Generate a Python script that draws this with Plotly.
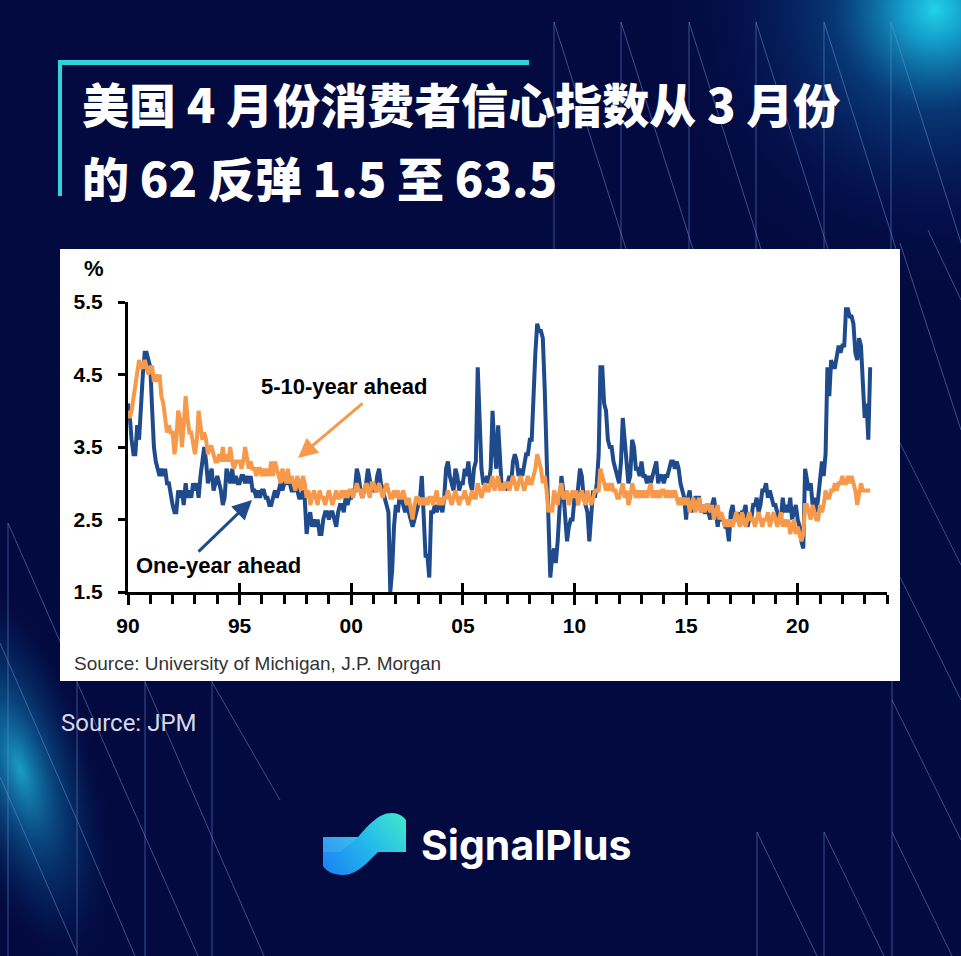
import base64
import plotly.graph_objects as go
import pandas as pd

W, H = 961, 956

# ---------------- data (monthly, Jan 1990 - Apr 2023) ----------------
one_year_ahead = [
    4.1, 3.9, 3.6, 3.4, 3.4, 3.8, 3.6, 4.2, 4.5, 4.8, 4.8, 4.7,  # 1990
    4.6, 4.0, 3.5, 3.3, 3.2, 3.1, 3.2, 3.1, 3.2, 3.0, 3.0, 2.8,  # 1991
    2.7, 2.6, 2.6, 2.9, 2.8, 2.9, 2.7, 3.0, 2.8, 2.9, 2.8, 3.0,  # 1992
    2.9, 3.0, 2.8, 3.1, 3.3, 3.5, 3.3, 3.0, 3.1, 3.2, 2.9, 3.0,  # 1993
    3.1, 3.0, 2.9, 2.7, 2.8, 3.2, 3.1, 3.0, 3.2, 3.0, 3.1, 3.0,  # 1994
    3.0, 3.1, 3.1, 3.0, 3.1, 3.0, 3.1, 2.9, 2.9, 2.8, 2.9, 2.8,  # 1995
    2.9, 2.9, 2.8, 2.8, 2.7, 2.7, 2.8, 2.9, 2.8, 2.9, 3.0, 2.9,  # 1996
    3.0, 3.0, 3.1, 3.0, 2.9, 2.9, 3.0, 2.9, 2.8, 2.8, 2.9, 2.8,  # 1997
    2.3, 2.5, 2.6, 2.4, 2.5, 2.4, 2.5, 2.3, 2.3, 2.5, 2.6, 2.6,  # 1998
    2.5, 2.6, 2.6, 2.5, 2.4, 2.6, 2.7, 2.7, 2.6, 2.8, 2.7, 2.8,  # 1999
    2.8, 2.9, 2.9, 3.2, 3.1, 2.9, 2.8, 2.9, 3.0, 3.2, 3.0, 2.9,  # 2000
    2.9, 2.9, 3.1, 3.2, 3.0, 2.9, 2.8, 2.7, 2.6, 1.5, 1.8, 2.4,  # 2001
    2.7, 2.6, 2.8, 2.8, 2.7, 2.6, 2.7, 2.6, 2.5, 2.4, 2.5, 2.6,  # 2002
    2.7, 2.8, 3.1, 2.5, 2.0, 2.0, 1.7, 2.6, 2.6, 2.7, 2.6, 2.7,  # 2003
    2.7, 2.6, 2.8, 3.2, 3.3, 3.1, 3.0, 2.9, 3.2, 3.1, 2.9, 3.0,  # 2004
    3.0, 3.2, 3.1, 3.3, 3.0, 2.9, 3.2, 3.3, 4.6, 3.8, 3.2, 3.0,  # 2005
    3.0, 3.1, 3.0, 3.2, 4.0, 3.5, 3.2, 3.8, 3.2, 2.9, 3.0, 2.9,  # 2006
    3.0, 3.1, 3.0, 3.3, 3.4, 3.3, 3.1, 3.2, 3.1, 3.3, 3.4, 3.4,  # 2007
    3.6, 3.6, 4.3, 4.8, 5.2, 5.1, 5.1, 5.0, 4.3, 3.2, 2.5, 1.7,  # 2008
    2.0, 2.1, 1.9, 2.2, 2.8, 3.1, 2.9, 2.6, 2.2, 2.4, 2.5, 2.5,  # 2009
    2.8, 2.7, 2.9, 3.2, 3.1, 2.8, 2.7, 2.6, 2.2, 2.5, 2.9, 2.8,  # 2010
    3.0, 3.4, 4.6, 4.6, 4.1, 4.0, 3.6, 3.5, 3.5, 3.3, 3.2, 3.1,  # 2011
    3.0, 3.3, 3.9, 3.6, 3.2, 3.0, 3.1, 3.6, 3.5, 3.2, 3.2, 3.1,  # 2012
    3.3, 3.1, 3.1, 3.0, 3.1, 3.0, 3.1, 3.2, 3.3, 3.0, 3.1, 3.1,  # 2013
    3.0, 3.1, 3.1, 3.2, 3.3, 3.3, 3.2, 3.3, 3.2, 3.0, 2.9, 2.8,  # 2014
    2.5, 2.8, 2.9, 2.6, 2.7, 2.8, 2.8, 2.8, 2.6, 2.7, 2.6, 2.6,  # 2015
    2.6, 2.5, 2.7, 2.8, 2.6, 2.4, 2.6, 2.5, 2.5, 2.4, 2.4, 2.2,  # 2016
    2.6, 2.7, 2.5, 2.5, 2.6, 2.4, 2.6, 2.6, 2.7, 2.4, 2.5, 2.5,  # 2017
    2.7, 2.7, 2.8, 2.6, 2.7, 2.9, 2.9, 3.0, 2.8, 2.9, 2.8, 2.7,  # 2018
    2.7, 2.6, 2.5, 2.5, 2.8, 2.6, 2.7, 2.6, 2.8, 2.5, 2.6, 2.7,  # 2019
    2.5, 2.4, 2.2, 2.1, 3.2, 3.0, 2.9, 3.0, 2.7, 2.8, 2.6, 2.8,  # 2020
    3.0, 3.3, 3.1, 3.4, 4.6, 4.2, 4.7, 4.6, 4.6, 4.8, 4.9, 4.8,  # 2021
    4.9, 4.9, 5.4, 5.4, 5.3, 5.3, 5.2, 4.8, 4.7, 5.0, 4.9, 4.4,  # 2022
    3.9, 4.1, 3.6, 4.6,                                          # 2023
]

five_ten_year_ahead = [
    4.0, 3.9, 4.0, 4.2, 4.3, 4.5, 4.7, 4.6, 4.6, 4.7, 4.6, 4.5,  # 1990
    4.6, 4.6, 4.4, 4.5, 4.4, 4.5, 4.2, 4.1, 3.9, 3.7, 3.8, 3.7,  # 1991
    3.7, 3.4, 3.6, 4.0, 3.9, 3.5, 3.8, 4.2, 3.9, 3.7, 3.7, 3.5,  # 1992
    3.4, 3.6, 4.0, 3.8, 3.6, 3.7, 3.6, 3.4, 3.5, 3.5, 3.4, 3.3,  # 1993
    3.3, 3.4, 3.3, 3.5, 3.3, 3.4, 3.3, 3.5, 3.3, 3.2, 3.3, 3.3,  # 1994
    3.3, 3.2, 3.3, 3.5, 3.3, 3.2, 3.3, 3.2, 3.2, 3.1, 3.2, 3.2,  # 1995
    3.1, 3.2, 3.1, 3.2, 3.1, 3.3, 3.1, 3.3, 3.2, 3.1, 3.0, 3.2,  # 1996
    3.1, 3.0, 3.2, 3.0, 3.1, 3.0, 2.9, 3.1, 3.0, 2.9, 3.1, 3.0,  # 1997
    2.8, 2.9, 2.7, 2.8, 2.9, 2.8, 2.7, 2.9, 2.8, 2.8, 2.7, 2.8,  # 1998
    2.9, 2.8, 2.7, 2.8, 2.9, 2.8, 2.8, 2.9, 2.8, 2.9, 2.8, 2.9,  # 1999
    2.9, 2.8, 2.9, 3.0, 2.9, 2.9, 2.8, 2.9, 3.0, 2.9, 2.8, 3.0,  # 2000
    3.0, 2.9, 2.9, 3.0, 2.9, 2.8, 2.9, 3.0, 2.9, 2.8, 2.8, 2.9,  # 2001
    2.8, 2.9, 2.8, 2.8, 2.9, 2.8, 2.7, 2.8, 2.6, 2.5, 2.7, 2.8,  # 2002
    2.8, 2.7, 2.8, 2.7, 2.8, 2.7, 2.8, 2.8, 2.7, 2.8, 2.9, 2.7,  # 2003
    2.8, 2.7, 2.8, 2.8, 2.9, 2.8, 2.7, 2.8, 2.9, 2.8, 2.7, 2.8,  # 2004
    2.8, 2.9, 2.8, 2.7, 2.8, 2.9, 2.8, 2.8, 3.0, 2.9, 2.8, 2.9,  # 2005
    3.0, 2.9, 2.9, 3.0, 3.1, 2.9, 3.0, 3.1, 2.9, 3.0, 2.9, 3.0,  # 2006
    3.0, 2.9, 3.0, 3.1, 3.0, 2.9, 3.0, 3.1, 3.0, 2.9, 3.0, 3.1,  # 2007
    3.0, 3.0, 3.1, 3.2, 3.4, 3.3, 3.2, 3.0, 3.1, 2.9, 2.6, 2.7,  # 2008
    2.6, 2.9, 2.8, 2.7, 2.9, 3.0, 2.8, 2.8, 2.9, 2.7, 2.8, 2.9,  # 2009
    2.8, 2.9, 2.7, 2.8, 2.9, 2.8, 2.7, 2.9, 2.8, 2.7, 2.8, 2.9,  # 2010
    2.9, 2.9, 3.2, 3.1, 3.0, 2.9, 3.0, 2.9, 3.0, 2.9, 2.9, 2.8,  # 2011
    2.8, 2.9, 3.0, 2.8, 2.9, 2.7, 2.8, 3.0, 2.9, 2.8, 2.9, 2.8,  # 2012
    2.9, 2.8, 2.9, 2.8, 2.9, 3.0, 2.8, 2.9, 2.8, 2.9, 2.8, 2.9,  # 2013
    2.9, 2.8, 2.9, 2.8, 2.9, 2.8, 2.9, 2.8, 2.7, 2.8, 2.7, 2.8,  # 2014
    2.7, 2.8, 2.6, 2.7, 2.8, 2.6, 2.7, 2.8, 2.6, 2.7, 2.6, 2.7,  # 2015
    2.7, 2.6, 2.7, 2.5, 2.6, 2.7, 2.5, 2.6, 2.5, 2.4, 2.5, 2.4,  # 2016
    2.5, 2.4, 2.5, 2.6, 2.5, 2.4, 2.6, 2.5, 2.4, 2.5, 2.6, 2.5,  # 2017
    2.5, 2.4, 2.5, 2.6, 2.5, 2.4, 2.5, 2.5, 2.6, 2.4, 2.5, 2.6,  # 2018
    2.5, 2.4, 2.5, 2.6, 2.4, 2.5, 2.4, 2.5, 2.3, 2.4, 2.5, 2.3,  # 2019
    2.4, 2.3, 2.2, 2.3, 2.7, 2.7, 2.6, 2.5, 2.7, 2.6, 2.5, 2.5,  # 2020
    2.7, 2.6, 2.7, 2.9, 2.8, 2.8, 2.9, 2.9, 3.0, 2.9, 3.0, 3.0,  # 2021
    3.1, 3.0, 3.0, 3.1, 3.0, 3.1, 3.0, 2.9, 2.7, 2.9, 3.0, 2.9,  # 2022
    2.9, 2.9, 2.9, 2.9,                                          # 2023
]

months = pd.date_range("1990-01-01", periods=len(one_year_ahead), freq="MS")

title_lines = ["美国 4 月份消费者信心指数从 3 月份", "的 62 反弹 1.5 至 63.5"]
series_names = ["One-year ahead", "5-10-year ahead"]
x_range = ["1990-01-01", "2024-01-01"]
y_ticks = [1.5, 2.5, 3.5, 4.5, 5.5]

# ---------------- styling ----------------
NAVY = "#030a40"
BLUE = "#1f4b8c"
ORANGE = "#f7994a"
CYAN = "#2fd3d8"
SANS = "Liberation Sans, Arial, sans-serif"


def px(x):
    return x / W


def py(y):
    return 1 - y / H


# ---------------- decorative background (glows, line pattern, logo mark) ----------------
segs = []
for x in [554, 621, 689, 756, 824, 891]:
    segs.append((x, 22, x, 249))
    segs.append((x, 22, x + 72, 249))
segs += [(900, 243, 961, 430), (900, 443, 961, 565), (900, 577, 961, 700), (928, 230, 961, 300)]
segs += [(8, 523, 8, 956), (77, 681, 77, 956), (145, 681, 145, 956), (212, 681, 212, 956)]
segs += [(8, 523, 77, 680), (0, 643, 77, 820), (77, 682, 145, 836), (145, 682, 212, 837),
         (212, 682, 280, 800), (0, 777, 77, 953), (77, 820, 135, 956), (145, 836, 198, 956),
         (212, 837, 264, 956)]
segs += [(757, 832, 757, 956), (824, 832, 824, 956), (892, 681, 892, 956),
         (757, 832, 817, 956), (824, 832, 884, 956), (892, 832, 952, 956), (892, 700, 961, 840)]
lines_svg = "".join(
    f'<line x1="{a}" y1="{b}" x2="{c}" y2="{d}" stroke="#6e96d7" stroke-opacity="0.5" stroke-width="1"/>'
    for a, b, c, d in segs)

logo_path = ("M323,837 L358,837 C368,826 378,813 392,813 C398,813 403,816 406,820 L406,852 L378,852 "
             "C368,862 357,875 343,875 C333,875 326,871 323,866 Z")
facet_path = "M323,837 L358,837 L340,852 L323,852 Z"

svg = f'''<svg xmlns="http://www.w3.org/2000/svg" width="{W}" height="{H}" viewBox="0 0 {W} {H}">
<defs>
<radialGradient id="g1" cx="935" cy="10" r="290" gradientUnits="userSpaceOnUse">
<stop offset="0" stop-color="#22d2ea" stop-opacity="1"/>
<stop offset="0.12" stop-color="#14a8d4" stop-opacity="0.9"/>
<stop offset="0.35" stop-color="#0b5a9e" stop-opacity="0.55"/>
<stop offset="0.7" stop-color="#06236a" stop-opacity="0.25"/>
<stop offset="1" stop-color="{NAVY}" stop-opacity="0"/>
</radialGradient>
<radialGradient id="g2" cx="0" cy="0" r="1" gradientUnits="userSpaceOnUse"
 gradientTransform="translate(20,770) rotate(-17) scale(80,210)">
<stop offset="0" stop-color="#1aa6cc" stop-opacity="0.95"/>
<stop offset="0.35" stop-color="#0e6fa8" stop-opacity="0.6"/>
<stop offset="0.7" stop-color="#073a7a" stop-opacity="0.3"/>
<stop offset="1" stop-color="{NAVY}" stop-opacity="0"/>
</radialGradient>
<linearGradient id="lg" x1="323" y1="875" x2="406" y2="813" gradientUnits="userSpaceOnUse">
<stop offset="0" stop-color="#1a80f2"/>
<stop offset="0.5" stop-color="#24b6ec"/>
<stop offset="1" stop-color="#40eacb"/>
</linearGradient>
</defs>
<rect x="0" y="0" width="{W}" height="{H}" fill="{NAVY}"/>
<rect x="0" y="0" width="{W}" height="{H}" fill="url(#g1)"/>
<rect x="0" y="0" width="{W}" height="{H}" fill="url(#g2)"/>
{lines_svg}
<path d="{logo_path}" fill="url(#lg)"/>
<path d="{facet_path}" fill="#ffffff" fill-opacity="0.10"/>
</svg>'''
bg_src = "data:image/svg+xml;base64," + base64.b64encode(svg.encode("utf-8")).decode("ascii")

fig = go.Figure()
fig.add_trace(go.Scatter(x=months, y=one_year_ahead, mode="lines", name=series_names[0],
                         line=dict(color=BLUE, width=4), xaxis="x", yaxis="y"))
fig.add_trace(go.Scatter(x=months, y=five_ten_year_ahead, mode="lines", name=series_names[1],
                         line=dict(color=ORANGE, width=4), xaxis="x", yaxis="y"))
# invisible trace to activate the overlay axis (upper half of major ticks)
fig.add_trace(go.Scatter(x=[months[0]], y=[None], xaxis="x2", yaxis="y", showlegend=False,
                         hoverinfo="skip", mode="lines"))

shapes = [
    # white chart panel
    dict(type="rect", xref="paper", yref="paper", layer="below",
         x0=px(60), x1=px(900), y0=py(681), y1=py(249), fillcolor="white", line=dict(width=0)),
    # cyan title bracket
    dict(type="rect", xref="paper", yref="paper", x0=px(58), x1=px(529), y0=py(65), y1=py(60),
         fillcolor=CYAN, line=dict(width=0)),
    dict(type="rect", xref="paper", yref="paper", x0=px(58), x1=px(62), y0=py(196), y1=py(60),
         fillcolor=CYAN, line=dict(width=0)),
]

annotations = []
for i, t in enumerate(title_lines):
    annotations.append(dict(text=t, xref="paper", yref="paper", x=px(80), y=py([103, 176][i]),
                            xanchor="left", yanchor="middle", showarrow=False,
                            font=dict(family="Noto Sans CJK SC", size=47, color="white", weight=900)))
annotations.append(dict(text="%", xref="paper", yref="paper", x=px(94), y=py(268), xanchor="center",
                        yanchor="middle", showarrow=False,
                        font=dict(family=SANS, size=22, color="black", weight="bold")))
annotations.append(dict(text=series_names[1], xref="paper", yref="paper", x=px(344), y=py(386),
                        xanchor="center", yanchor="middle", showarrow=False,
                        font=dict(family=SANS, size=22, color="black", weight="bold")))
annotations.append(dict(text=series_names[0], xref="paper", yref="paper", x=px(218), y=py(565),
                        xanchor="center", yanchor="middle", showarrow=False,
                        font=dict(family=SANS, size=22, color="black", weight="bold")))
annotations.append(dict(text="", xref="paper", yref="paper", x=px(298), y=py(458), ax=66, ay=-56,
                        showarrow=True, arrowhead=2, arrowsize=1.3, arrowwidth=3, arrowcolor=ORANGE,
                        standoff=0))
annotations.append(dict(text="", xref="paper", yref="paper", x=px(252), y=py(500), ax=-55, ay=53,
                        showarrow=True, arrowhead=2, arrowsize=1.3, arrowwidth=3, arrowcolor=BLUE,
                        standoff=0))
annotations.append(dict(text="Source: University of Michigan, J.P. Morgan", xref="paper", yref="paper",
                        x=px(72), y=py(663), xanchor="left", yanchor="middle", showarrow=False,
                        font=dict(family=SANS, size=19, color="#333333")))
annotations.append(dict(text="Source: JPM", xref="paper", yref="paper", x=px(59), y=py(723),
                        xanchor="left", yanchor="middle", showarrow=False,
                        font=dict(family="Roboto", size=24, color="#d5d9e6")))
annotations.append(dict(text="SignalPlus", xref="paper", yref="paper", x=px(419), y=py(845),
                        xanchor="left", yanchor="middle", showarrow=False,
                        font=dict(family="Inter", size=41, color="white", weight="bold")))

axis_font = dict(family=SANS, size=21, color="black", weight="bold")
xdom = [px(128), px(887)]
ydom = [py(592), py(302)]

fig.update_layout(
    width=W, height=H, autosize=False,
    margin=dict(l=0, r=0, t=0, b=0, pad=0),
    paper_bgcolor=NAVY, plot_bgcolor="white",
    showlegend=False,
    shapes=shapes, annotations=annotations,
    images=[dict(source=bg_src, xref="paper", yref="paper", x=0, y=1, sizex=1, sizey=1,
                 xanchor="left", yanchor="top", sizing="stretch", layer="below")],
    xaxis=dict(type="date", domain=xdom, range=x_range, anchor="y", automargin=False,
               showgrid=False, zeroline=False, showline=True, linecolor="black", linewidth=3,
               ticks="outside", ticklen=10, tickwidth=3, tickcolor="black",
               tick0="1990-01-01", dtick="M60", tickformat="%y", tickfont=axis_font,
               ticklabelstandoff=3,
               minor=dict(ticks="outside", ticklen=9, tickwidth=2.5, tickcolor="black",
                          dtick="M12", tick0="1990-01-01", showgrid=False)),
    xaxis2=dict(type="date", domain=xdom, range=x_range, anchor="y", overlaying="x", side="bottom",
                automargin=False, showgrid=False, zeroline=False, showline=False,
                showticklabels=False, ticks="inside", ticklen=9, tickwidth=3, tickcolor="black",
                tick0="1990-01-01", dtick="M60"),
    yaxis=dict(domain=ydom, range=[1.5, 5.5], anchor="x", automargin=False,
               showgrid=False, zeroline=False, showline=True, linecolor="black", linewidth=3,
               ticks="outside", ticklen=7, tickwidth=3, tickcolor="black",
               tickvals=y_ticks, ticktext=[f"{v:.1f}" for v in y_ticks], tickfont=axis_font,
               ticklabelstandoff=11),
)

fig.write_html("out.html", config={"displayModeBar": False},
               post_script="document.body.style.margin='0';")
